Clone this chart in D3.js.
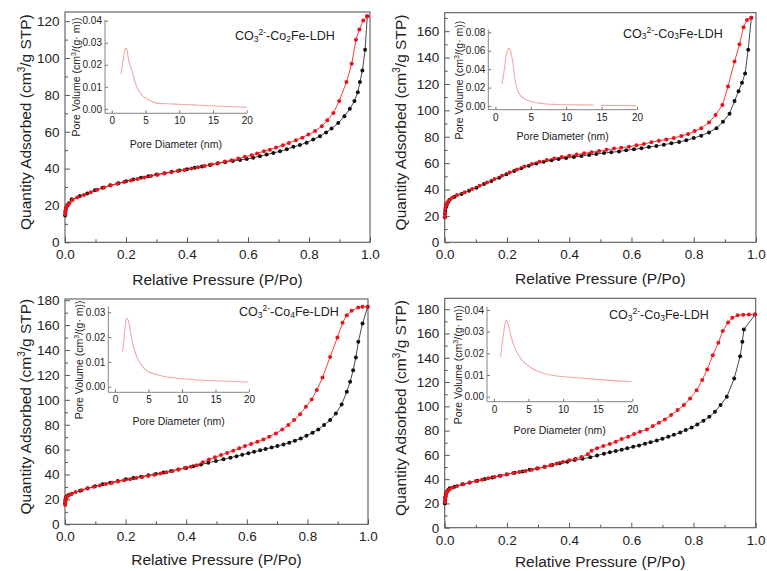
<!DOCTYPE html>
<html>
<head>
<meta charset="utf-8">
<script src="https://cdn.jsdelivr.net/npm/d3@7"></script>
<style>
  body { margin: 0; background: #fff; }
  svg { display: block; font-family: Arial, "Liberation Sans", sans-serif; }
</style>
</head>
<body>
<svg id="chart" width="767" height="571"></svg>
<script>
// ---- Co2Fe isotherm ----
const co2fe_adsP = [0.0005,0.001,0.002,0.004,0.007,0.012,0.022,0.049,0.073,0.098,0.123,0.148,0.175,0.2,0.224,0.249,0.273,0.3,0.326,0.35,0.375,0.4,0.425,0.449,0.475,0.5,0.525,0.55,0.574,0.596,0.617,0.639,0.661,0.683,0.705,0.727,0.749,0.77,0.792,0.814,0.836,0.856,0.874,0.896,0.916,0.934,0.949,0.96,0.967,0.975,0.984,0.991];
const co2fe_adsQ = [14.5,16,17.5,18.8,19.8,21,23.3,25.1,26.5,28.2,29.6,30.9,32.1,33.2,34.1,35,35.9,36.8,37.5,38.3,39,39.7,40.4,41.2,42,42.8,43.5,44.1,44.7,45.2,45.9,46.7,47.6,48.5,49.4,50.5,51.8,52.8,54.1,55.8,57.6,59.6,61.7,64.8,68.4,72.5,76.7,81.5,87,93.3,104.5,122.7];
const co2fe_desP = [0.991,0.978,0.965,0.954,0.94,0.923,0.899,0.88,0.86,0.842,0.82,0.798,0.778,0.757,0.734,0.714,0.692,0.672,0.652,0.63,0.612,0.59,0.568,0.546,0.524,0.502,0.48,0.458,0.436,0.414,0.392,0.37,0.348,0.326,0.304,0.282,0.26,0.238,0.216,0.194,0.172,0.15,0.128,0.106,0.084,0.062,0.04,0.025,0.015,0.009,0.005,0.003,0.0015,0.0008];
const co2fe_desQ = [122.7,120.4,115.5,109.9,96.9,87,76.7,70.2,66.2,63,60.4,58.5,56.8,55.4,53.9,52.7,51.4,50.3,49.4,48.2,47.3,46.4,45.5,44.6,43.8,43,42.2,41.4,40.7,40,39.3,38.7,38,37.3,36.7,36,35.2,34.4,33.6,32.7,31.8,30.8,29.7,28.5,27.2,25.7,24.3,23,21.5,20.4,19.3,18.2,16.8,15.2];
const co2fe_poreD = [1.38,1.55,1.73,1.85,1.98,2.1,2.22,2.35,2.47,2.62,2.81,3.0,3.21,3.45,3.7,4.05,4.44,4.9,5.43,6.0,6.67,7.4,8.15,9.1,10.1,12.1,14.6,17,20];
const co2fe_poreV = [0.0158,0.0195,0.0229,0.0258,0.027,0.0275,0.0272,0.025,0.0229,0.0205,0.0192,0.017,0.0146,0.0122,0.0101,0.0081,0.0063,0.0051,0.0041,0.0033,0.0026,0.0024,0.0023,0.0022,0.0021,0.0018,0.0014,0.0011,0.0008];

// ---- Co3Fe isotherm (top right) ----
const co3fe_adsP = [0.0005,0.001,0.002,0.004,0.007,0.011,0.016,0.032,0.054,0.078,0.102,0.126,0.15,0.175,0.198,0.223,0.246,0.27,0.294,0.318,0.343,0.366,0.39,0.415,0.439,0.464,0.487,0.512,0.535,0.56,0.583,0.608,0.632,0.656,0.68,0.704,0.728,0.753,0.776,0.8,0.824,0.849,0.873,0.894,0.915,0.931,0.944,0.955,0.965,0.975,0.985];
const co3fe_adsQ = [19,21.5,24,26.5,28.5,30.5,32.3,34.6,36.6,39.1,41.4,44.2,46.5,49,51.5,54,56.1,58.1,59.8,61.1,62.1,63.1,63.9,64.6,65.4,66.2,66.9,67.7,68.2,68.9,69.7,70.5,71.2,72.2,73,74,75,76,77.3,79,80.8,83.3,86.4,91.4,97.5,107,114.5,121,128,146,170.2];
const co3fe_desP = [0.985,0.971,0.96,0.947,0.931,0.91,0.892,0.87,0.849,0.824,0.803,0.782,0.76,0.736,0.712,0.688,0.664,0.64,0.616,0.592,0.567,0.544,0.52,0.496,0.472,0.448,0.424,0.4,0.376,0.352,0.328,0.304,0.28,0.256,0.232,0.208,0.184,0.16,0.136,0.112,0.088,0.064,0.04,0.024,0.014,0.008,0.004,0.002,0.001,0.0005];
const co3fe_desQ = [170.2,168.5,163,150,137,118,104,96.5,90.7,86.4,84.3,82,80.6,79,78,77,75.8,74.5,73.5,72.5,71.7,71,70.1,69.2,68.3,67.4,66.5,65.6,64.7,63.6,62.4,61,59.3,57.4,55.2,52.9,50.4,47.9,45.3,42.8,40.4,38,35.8,33.8,31.8,30,28,25.5,22,19];
const co3fe_poreD = [0.95,1.15,1.29,1.52,1.75,1.86,2.0,2.14,2.3,2.48,2.66,2.86,3.1,3.33,3.7,4.14,4.7,5.33,6.2,7.24,8.6,10.1,12,13.9,14.3,14.9,17,19.9];
const co3fe_poreV = [0.0239,0.034,0.041,0.0554,0.0615,0.0626,0.0618,0.06,0.054,0.0463,0.035,0.0246,0.0178,0.0138,0.0102,0.0076,0.0057,0.0043,0.0031,0.0022,0.0017,0.0014,0.0012,0.0011,null,0.0007,0.0005,0.0004];

// ---- Co4Fe isotherm ----
const co4fe_adsP = [0.0005,0.001,0.002,0.004,0.007,0.012,0.022,0.05,0.074,0.099,0.124,0.149,0.174,0.201,0.226,0.251,0.275,0.3,0.325,0.35,0.374,0.4,0.424,0.449,0.473,0.498,0.523,0.546,0.566,0.585,0.605,0.624,0.644,0.662,0.682,0.701,0.721,0.74,0.759,0.778,0.797,0.817,0.836,0.855,0.875,0.894,0.913,0.93,0.941,0.951,0.96,0.968,0.982,0.999];
const co4fe_adsQ = [17,19,20.5,21.8,22.8,23.5,24.5,27,28.9,30.5,32.1,33.4,34.8,36.1,37.2,38.3,39.4,40.5,41.6,42.8,44,45.3,46.6,48,49.4,50.8,52.2,53.5,54.7,55.8,57,58.2,59.4,60.5,61.6,62.9,64.2,65.6,67.2,69,71.2,73.6,76.2,79.7,83.7,89.1,96.3,106.4,114.5,123.8,134,146.6,161.3,174.7];
const co4fe_desP = [0.999,0.982,0.968,0.946,0.93,0.916,0.899,0.875,0.85,0.831,0.814,0.795,0.776,0.756,0.737,0.717,0.696,0.674,0.655,0.635,0.614,0.594,0.575,0.555,0.535,0.515,0.495,0.475,0.455,0.435,0.415,0.395,0.375,0.355,0.335,0.315,0.295,0.275,0.255,0.235,0.215,0.195,0.175,0.155,0.135,0.115,0.095,0.075,0.055,0.035,0.02,0.012,0.007,0.004,0.002,0.001,0.0005];
const co4fe_desQ = [174.7,174.7,174.2,171.5,168,162,150,134.5,118,107.8,100.3,94.4,88.5,83.7,79.7,76.2,73,70.3,68.2,66.3,64.5,62.9,61,59.1,57.3,55.6,53.9,52,49.8,47.5,46.3,45.2,44,42.9,41.8,40.8,39.8,38.9,38,37.1,36.2,35.3,34.3,33.3,32.3,31.2,30.1,28.8,27.4,25.9,24.4,23.3,22.3,21,19.5,17.5,15.5];
const co4fe_poreD = [1.15,1.4,1.6,1.8,2.05,2.35,2.64,3.0,3.4,4.0,4.6,5.3,6.1,7.2,8.6,10.5,12.6,15,17.6,19.8];
const co4fe_poreV = [0.0141,0.021,0.026,0.0276,0.026,0.0215,0.0175,0.014,0.0112,0.0086,0.0067,0.0057,0.005,0.0042,0.0036,0.0031,0.0027,0.0024,0.0021,0.0019];

// ---- Co3Fe isotherm (bottom right) ----
const co5fe_adsP = [0.0005,0.001,0.002,0.004,0.007,0.011,0.016,0.032,0.057,0.08,0.105,0.129,0.153,0.177,0.2,0.225,0.25,0.273,0.297,0.322,0.346,0.37,0.394,0.418,0.443,0.468,0.49,0.512,0.531,0.55,0.569,0.587,0.606,0.625,0.644,0.662,0.682,0.7,0.719,0.737,0.757,0.775,0.794,0.812,0.832,0.851,0.869,0.887,0.907,0.931,0.95,0.957,0.962,0.998];
const co5fe_adsQ = [20,22.5,25,27.5,29.5,31,32.5,33.7,35.7,37.3,38.7,40.1,41.4,42.8,43.9,45.3,46.4,47.7,48.8,50.2,51.6,53,54.3,55.7,56.8,58,59.5,61,62.1,63.2,64.3,65.4,66.7,67.8,69.2,70.5,71.9,73.3,74.9,76.5,78.5,80.4,82.6,85.1,88.1,91.4,95.5,101,107.8,123,141.3,153.1,163.3,175.6];
const co5fe_desP = [0.998,0.978,0.96,0.942,0.925,0.911,0.894,0.88,0.862,0.844,0.828,0.81,0.789,0.769,0.749,0.728,0.708,0.689,0.669,0.65,0.628,0.609,0.59,0.569,0.55,0.531,0.51,0.49,0.472,0.46,0.44,0.42,0.4,0.38,0.36,0.34,0.32,0.3,0.28,0.26,0.24,0.22,0.2,0.18,0.16,0.14,0.12,0.1,0.08,0.06,0.04,0.025,0.015,0.009,0.005,0.003,0.0015,0.0008];
const co5fe_desQ = [175.6,175.6,175.5,175,173,169,162.1,152.3,142.1,130.4,121.6,113.3,106.5,101,96.9,92.8,89.2,86.5,83.7,81,79.1,77.1,74.9,73,70.8,68.9,67.3,65.5,63.5,60.5,58.2,56.8,55.5,54.2,52.8,51.4,50.1,48.9,47.8,46.8,45.9,45,44,42.9,41.8,40.7,39.6,38.4,37.1,35.8,34.3,33,31.5,30,28,26,23.5,21];
const co5fe_poreD = [0.97,1.3,1.6,1.8,2.1,2.42,2.8,3.15,3.6,4.1,4.8,5.57,6.5,8,9.5,10.9,13,15.3,17.5,19.9];
const co5fe_poreV = [0.0183,0.027,0.0335,0.0353,0.033,0.0284,0.0245,0.0214,0.019,0.0167,0.0147,0.0129,0.0115,0.0101,0.0094,0.009,0.0085,0.0079,0.0074,0.007];

// ---- tick labels ----
const pressureTicks = [0, 0.2, 0.4, 0.6, 0.8, 1.0];
const diameterTicks = [0, 5, 10, 15, 20];

const zip = (a, b) => a.map((v, i) => [v, b[i]]);

const panels = [
  { frame: { l: 65, r: 370, t: 12, b: 242.3 }, yMax: 125, yTop: 120, titleX: 25, xTitleDy: 42.4,
    label: { x: 235, y: 40, sub: "2" },
    ads: zip(co2fe_adsP, co2fe_adsQ), des: zip(co2fe_desP, co2fe_desQ),
    inset: { l: 105, r: 246.7, t: 20.7, b: 113.3, yDomain: [-0.002, 0.04], yTicks: [0, 0.01, 0.02, 0.03, 0.04],
             titleDy: 35, pts: zip(co2fe_poreD, co2fe_poreV) } },
  { frame: { l: 444.7, r: 756, t: 12.7, b: 242.3 }, yMax: 174, yTop: 160, titleX: 400, xTitleDy: 41.4,
    label: { x: 623, y: 37.5, sub: "3" },
    ads: zip(co3fe_adsP, co3fe_adsQ), des: zip(co3fe_desP, co3fe_desQ),
    inset: { l: 488.3, r: 637, t: 30.5, b: 109.7, yDomain: [-0.004, 0.082], yTicks: [0, 0.02, 0.04, 0.06, 0.08],
             titleDy: 30.7, pts: zip(co3fe_poreD, co3fe_poreV) } },
  { frame: { l: 65, r: 368, t: 299, b: 524.3 }, yMax: 181, yTop: 180, titleX: 25, xTitleDy: 41,
    label: { x: 239, y: 316, sub: "4" },
    ads: zip(co4fe_adsP, co4fe_adsQ), des: zip(co4fe_desP, co4fe_desQ),
    inset: { l: 108.3, r: 249, t: 307.3, b: 392.3, yDomain: [-0.00226, 0.032], yTicks: [0, 0.01, 0.02, 0.03],
             titleDy: 33, pts: zip(co4fe_poreD, co4fe_poreV) } },
  { frame: { l: 444.7, r: 755.7, t: 298.3, b: 527.7 }, yMax: 189, yTop: 180, titleX: 400, xTitleDy: 38.8,
    label: { x: 609, y: 319, sub: "3" },
    ads: zip(co5fe_adsP, co5fe_adsQ), des: zip(co5fe_desP, co5fe_desQ),
    inset: { l: 487, r: 632.3, t: 307.8, b: 401.7, yDomain: [-0.0023, 0.041], yTicks: [0, 0.01, 0.02, 0.03, 0.04],
             titleDy: 32.7, pts: zip(co5fe_poreD, co5fe_poreV) } }
];

const svg = d3.select("#chart");
svg.append("rect").attr("width", 767).attr("height", 571).attr("fill", "#fff");

function styleAxis(g, color, fontSize) {
  g.select(".domain").remove();
  g.selectAll(".tick line").attr("stroke", color);
  g.selectAll(".tick text").attr("fill", "#222").attr("font-size", fontSize)
    .attr("font-family", "Arial, 'Liberation Sans', sans-serif");
}

panels.forEach(p => {
  const f = p.frame;
  const x = d3.scaleLinear().domain([0, 1]).range([f.l, f.r]);
  const y = d3.scaleLinear().domain([0, p.yMax]).range([f.b, f.t]);
  const g = svg.append("g");

  // minor ticks
  g.append("g").attr("transform", `translate(0,${f.b})`)
    .call(d3.axisBottom(x).tickValues([0.1, 0.3, 0.5, 0.7, 0.9]).tickSize(-3).tickFormat(""))
    .call(a => styleAxis(a, "#555", 0));
  g.append("g").attr("transform", `translate(${f.l},0)`)
    .call(d3.axisLeft(y).tickValues(d3.range(10, p.yMax, 20)).tickSize(-3).tickFormat(""))
    .call(a => styleAxis(a, "#555", 0));

  // major ticks
  g.append("g").attr("transform", `translate(0,${f.b})`)
    .call(d3.axisBottom(x).tickValues(pressureTicks).tickSize(-5).tickPadding(7.5).tickFormat(d3.format(".1f")))
    .call(a => styleAxis(a, "#555", 13.5));
  g.append("g").attr("transform", `translate(${f.l},0)`)
    .call(d3.axisLeft(y).tickValues(d3.range(0, p.yTop + 1, 20)).tickSize(-5).tickPadding(5.5))
    .call(a => styleAxis(a, "#555", 13.5));

  // frame
  g.append("rect").attr("x", f.l).attr("y", f.t).attr("width", f.r - f.l).attr("height", f.b - f.t)
    .attr("fill", "none").attr("stroke", "#5a5a5a").attr("stroke-width", 1.1);

  // axis titles
  g.append("text").attr("x", (f.l + f.r) / 2).attr("y", f.b + p.xTitleDy)
    .attr("text-anchor", "middle").attr("font-size", 15.5).attr("fill", "#222")
    .text("Relative Pressure (P/Po)");
  const yt = g.append("text")
    .attr("transform", `translate(${p.titleX + 5.5},${(f.t + f.b) / 2 - 5}) rotate(-90)`)
    .attr("text-anchor", "middle").attr("font-size", 15.5).attr("fill", "#222");
  yt.append("tspan").text("Quantity Adsorbed (cm");
  yt.append("tspan").attr("font-size", 10).attr("dy", -6).text("3");
  yt.append("tspan").attr("dy", 6).text("/g STP)");

  // sample label
  const lb = g.append("text").attr("x", p.label.x).attr("y", p.label.y)
    .attr("font-size", 12.5).attr("fill", "#222");
  lb.append("tspan").text("CO");
  lb.append("tspan").attr("font-size", 8.5).attr("dy", 1.5).text("3");
  lb.append("tspan").attr("font-size", 8.5).attr("dy", -6.5).text("2-");
  lb.append("tspan").attr("dy", 5).text("-Co");
  lb.append("tspan").attr("font-size", 8.5).attr("dy", 1.5).text(p.label.sub);
  lb.append("tspan").attr("dy", -1.5).text("Fe-LDH");

  // inset: pore size distribution
  const ins = p.inset;
  const ix = d3.scaleLinear().domain([-1, 20]).range([ins.l, ins.r]);
  const iy = d3.scaleLinear().domain(ins.yDomain).range([ins.b, ins.t]);
  const ig = g.append("g");
  ig.append("g").attr("transform", `translate(0,${ins.b})`)
    .call(d3.axisBottom(ix).tickValues(diameterTicks).tickSize(-3).tickPadding(4))
    .call(a => styleAxis(a, "#777", 10));
  ig.append("g").attr("transform", `translate(${ins.l},0)`)
    .call(d3.axisLeft(iy).tickValues(ins.yTicks).tickSize(-3).tickPadding(3).tickFormat(d3.format(".2f")))
    .call(a => styleAxis(a, "#777", 10));
  ig.append("path").attr("fill", "none").attr("stroke", "#777").attr("stroke-width", 0.9)
    .attr("d", `M${ins.l},${ins.t - 1}V${ins.b}H${ins.r}`);
  ig.append("text").attr("x", (ins.l + ins.r) / 2).attr("y", ins.b + ins.titleDy)
    .attr("text-anchor", "middle").attr("font-size", 10.5).attr("fill", "#222")
    .text("Pore Diameter (nm)");
  const it = ig.append("text")
    .attr("transform", `translate(${ins.l - 25},${(ins.t + ins.b) / 2 + 10}) rotate(-90)`)
    .attr("text-anchor", "middle").attr("font-size", 10.5).attr("fill", "#222");
  it.append("tspan").text("Pore Volume (cm");
  it.append("tspan").attr("font-size", 7).attr("dy", -4).text("3");
  it.append("tspan").attr("dy", 4).text("/(g\u00b7 m))");
  ig.append("path").datum(ins.pts)
    .attr("fill", "none").attr("stroke", "#f4a8a8").attr("stroke-width", 1.1)
    .attr("d", d3.line().defined(d => d[1] != null).x(d => ix(d[0])).y(d => iy(d[1])).curve(d3.curveMonotoneX));

  // isotherms
  const line = d3.line().x(d => x(d[0])).y(d => y(d[1]));
  [[p.ads, "#333", "#111"], [p.des, "#f22", "#e8141b"]].forEach(([pts, lc, mc]) => {
    g.append("path").datum(pts).attr("fill", "none").attr("stroke", lc).attr("stroke-width", 0.9).attr("d", line);
    g.append("g").selectAll("circle").data(pts).join("circle")
      .attr("cx", d => x(d[0])).attr("cy", d => y(d[1])).attr("r", 2).attr("fill", mc);
  });
});
</script>
</body>
</html>
